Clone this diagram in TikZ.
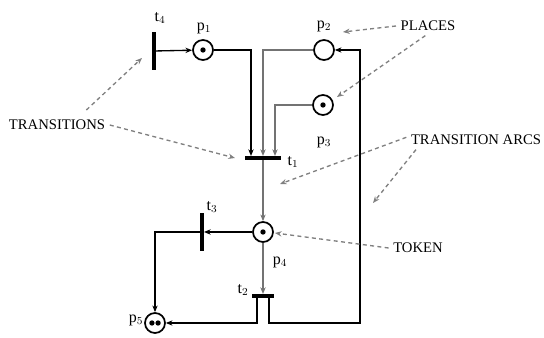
\documentclass[tikz,border=0pt]{standalone}
\usepackage{fontspec}
\setmainfont{Liberation Serif}
\usetikzlibrary{arrows.meta}

\tikzset{
  place/.style={circle, draw, line width=1.3pt, minimum size=15pt, inner sep=0pt},
  vbar/.style={fill, inner sep=0pt, minimum width=2.6pt, minimum height=28pt},
  hbar/.style={fill, inner sep=0pt, minimum height=2.6pt},
  arc/.style={->, line width=1pt},
  grayarc/.style={->, line width=1.2pt, draw=black!55},
  note/.style={font=\fontsize{11}{13}\selectfont},
  netlabel/.style={font=\fontsize{12}{14}\selectfont},
  pointer/.style={->, dashed, dash pattern=on 3pt off 2.5pt, line width=1pt, draw=black!50}
}

\begin{document}
\begin{tikzpicture}[x=0.75pt, y=-0.75pt, >={Stealth[length=5pt, width=4pt]}]
    \useasboundingbox (0, 0) rectangle (544, 338);

    % places
    \node [place] (p1) at (203, 50) {};
    \node [place] (p2) at (324, 50) {};
    \node [place] (p3) at (323, 105) {};
    \node [place] (p4) at (263, 232) {};
    \node [place] (p5) at (155, 323) {};
    \fill (p1.center) circle (2pt);
    \fill (p3.center) circle (2pt);
    \fill (p4.center) circle (2pt);
    \fill ([xshift=-2.3pt]p5.center) circle (2pt);
    \fill ([xshift=2.3pt]p5.center) circle (2pt);

    % transitions
    \node [vbar] (t4) at (154, 51) {};
    \node [hbar, minimum width=27pt] (t1) at (263, 158) {};
    \node [vbar] (t3) at (202, 232) {};
    \node [hbar, minimum width=17pt] (t2) at (263, 296) {};
    \coordinate (loop) at (360, 323);

    % labels
    \node [netlabel] (t4lab) at (160, 18) {t$_4$};
    \node [netlabel] (p1lab) at (204, 28) {p$_1$};
    \node [netlabel] (p2lab) at (324, 26) {p$_2$};
    \node [netlabel] (p3lab) at (324, 142) {p$_3$};
    \node [netlabel] (t1lab) at (293, 162) {t$_1$};
    \node [netlabel] (t3lab) at (212, 207) {t$_3$};
    \node [netlabel] (p4lab) at (280, 262) {p$_4$};
    \node [netlabel] (t2lab) at (243, 290) {t$_2$};
    \node [netlabel] (p5lab) at (136, 320) {p$_5$};

    % arcs
    \draw [arc] (t4) -- (p1);
    \draw [arc] (p1.east) -| ([xshift=-9pt]t1.north);
    \draw [grayarc] (p2.west) -| (t1.north);
    \draw [grayarc] (p3.west) -| ([xshift=9pt]t1.north);
    \draw [grayarc] (t1) -- (p4);
    \draw [arc] (p4) -- (t3);
    \draw [arc] (t3.west) -| (p5.north);
    \draw [grayarc] (p4) -- (t2);
    \draw [arc] ([xshift=-4.5pt]t2.south) |- (p5.east);
    \draw [arc] ([xshift=4.5pt]t2.south) |- (loop) |- (p2.east);

    % notes
    \node [note] (places) at (428, 26) {PLACES};
    \node [note] (transitions) at (57, 125) {TRANSITIONS};
    \node [note] (arcs) at (476, 140) {TRANSITION ARCS};
    \node [note] (token) at (418, 248) {TOKEN};
    \coordinate (placesA) at (343, 32);
    \coordinate (placesB) at (337, 97);
    \coordinate (transA) at (142, 58);
    \coordinate (transB) at (235, 158);
    \coordinate (arcsA) at (280, 184);
    \coordinate (arcsB) at (373, 203);
    \coordinate (tokenA) at (275, 233);

    \draw [pointer] (places.west) -- (placesA);
    \draw [pointer] ([xshift=-2pt]places.south) -- (placesB);
    \draw [pointer] ([xshift=22pt, yshift=4pt]transitions.north) -- (transA);
    \draw [pointer] (transitions.east) -- (transB);
    \draw [pointer] ([yshift=2pt]arcs.west) -- (arcsA);
    \draw [pointer] ([xshift=-45pt]arcs.south) -- (arcsB);
    \draw [pointer] (token.west) -- (tokenA);
\end{tikzpicture}
\end{document}
